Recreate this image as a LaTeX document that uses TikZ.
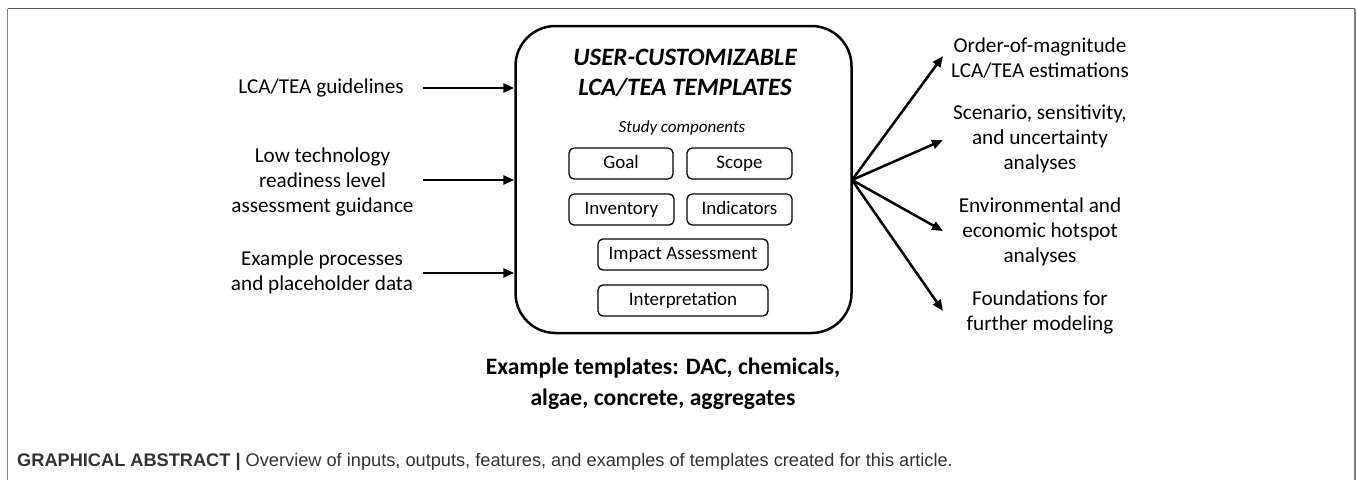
\documentclass[tikz,border=0pt]{standalone}
\usepackage{fontspec}
\setmainfont{Carlito}
\newfontfamily\capfont{Liberation Sans}
\usetikzlibrary{arrows.meta,calc}
\begin{document}
\begin{tikzpicture}[x=1pt,y=-1pt,
  arr/.style={line width=2.5pt,-{Triangle[length=11pt,width=9pt]}},
  comp/.style={draw,line width=1.3pt,rounded corners=5pt,inner sep=0pt,minimum height=31pt,text height=13pt,text depth=4pt,font=\fontsize{19}{22}\selectfont},
  side/.style={align=center,font=\fontsize{21.2}{25}\selectfont},
]
\useasboundingbox (0,0) rectangle (1357,480);
\fill[white] (0,0) rectangle (1357,480);
% frame
\draw[line width=1.5pt,gray!70!black] (7.5,8.5) -- (1355,8.5);
\draw[line width=1.5pt,gray] (7.5,8.5) -- (7.5,480);
\draw[line width=1.5pt,gray] (1355,8.5) -- (1355,480);
% main box
\node[draw,line width=2.5pt,rounded corners=40pt,minimum width=336pt,minimum height=307pt] (main) at (683.5,179.5) {};
\node[font=\fontsize{25}{30}\selectfont\bfseries\itshape,align=center] (title) at (685,73) {USER-CUSTOMIZABLE\\LCA/TEA TEMPLATES};
\node[font=\fontsize{17}{20}\selectfont\itshape] (study) at (682,128) {Study components};
\node[comp,minimum width=104pt] (goal) at (621,163.5) {Goal};
\node[comp,minimum width=105pt] (scope) at (739.5,163.5) {Scope};
\node[comp,minimum width=105pt] (inv) at (621.5,209.5) {Inventory};
\node[comp,minimum width=105pt] (ind) at (739.5,209.5) {Indicators};
\node[comp,minimum width=170pt] (impact) at (683,254.5) {Impact Assessment};
\node[comp,minimum width=170pt] (interp) at (683,300.5) {Interpretation};
% left inputs
\node[side] (in1) at (321,88) {LCA/TEA guidelines};
\node[side] (in2) at (322.5,182) {Low technology\\readiness level\\assessment guidance};
\node[side] (in3) at (322,272) {Example processes\\and placeholder data};
\coordinate (s1) at (423,88);
\coordinate (s2) at (423,180);
\coordinate (s3) at (423,273);
\draw[arr] (s1) -- (main.west |- s1);
\draw[arr] (s2) -- (main.west |- s2);
\draw[arr] (s3) -- (main.west |- s3);
% right outputs
\coordinate (hub) at (852,180);
\node[side] (out1) at (1040,58) {Order-of-magnitude\\LCA/TEA estimations};
\node[side] (out2) at (1040,139) {Scenario, sensitivity,\\and uncertainty\\analyses};
\node[side] (out3) at (1040,232) {Environmental and\\economic hotspot\\analyses};
\node[side] (out4) at (1040,312) {Foundations for\\further modeling};
\coordinate (e1) at (943,56);
\coordinate (e2) at (943,140);
\coordinate (e3) at (943,231);
\coordinate (e4) at (943,311);
\draw[arr] (hub) -- (e1);
\draw[arr] (hub) -- (e2);
\draw[arr] (hub) -- (e3);
\draw[arr] (hub) -- (e4);
% bottom
\node[font=\fontsize{23.6}{31}\selectfont\bfseries,align=center] (ex) at (663,384) {Example templates: DAC, chemicals,\\algae, concrete, aggregates};
% caption
\node[anchor=west,font=\capfont\fontsize{18.2}{21}\selectfont,inner sep=0pt,text=black!80] (cap) at (17,462) {\textbf{GRAPHICAL ABSTRACT |} Overview of inputs, outputs, features, and examples of templates created for this article.};
\end{tikzpicture}
\end{document}
